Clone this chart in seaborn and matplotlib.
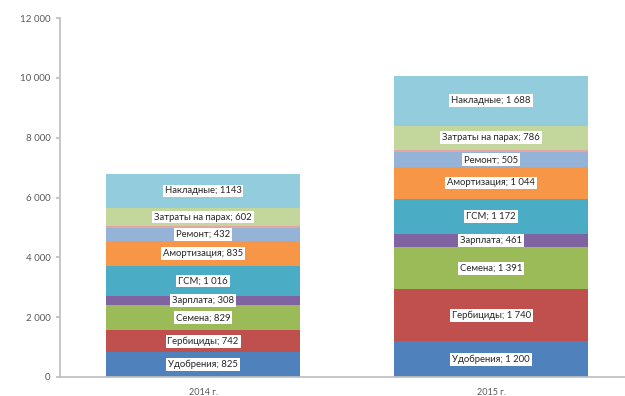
import matplotlib
matplotlib.use("Agg")
import matplotlib.pyplot as plt
import seaborn as sns
import numpy as np
import pandas as pd
from matplotlib.ticker import FuncFormatter

years = ["2014 г.", "2015 г."]
categories = ["Удобрения", "Гербициды", "Семена", "Зарплата", "ГСМ",
              "Амортизация", "Ремонт", "Прочие", "Затраты на парах", "Накладные"]
values_2014 = [825, 742, 829, 308, 1016, 835, 432, 60, 602, 1143]
values_2015 = [1200, 1740, 1391, 461, 1172, 1044, 505, 90, 786, 1688]
labels_2014 = ["825", "742", "829", "308", "1 016", "835", "432", None, "602", "1143"]
labels_2015 = ["1 200", "1 740", "1 391", "461", "1 172", "1 044", "505", None, "786", "1 688"]
colors = ["#4f81bd", "#c0504d", "#9bbb59", "#8064a2", "#4bacc6",
          "#f79646", "#95b3d7", "#e6a5a3", "#c3d69b", "#93cddd"]
yticks = [0, 2000, 4000, 6000, 8000, 10000, 12000]

sns.set_theme(style="white")
plt.rcParams["font.family"] = ["Lato", "DejaVu Sans"]

fig = plt.figure(figsize=(6.25, 3.96), dpi=100)
ax = fig.add_axes([0.096, 0.048, 0.904, 0.9065])

vals = np.array([values_2014, values_2015])
cum = np.cumsum(vals, axis=1)

for i in range(len(categories) - 1, -1, -1):
    df = pd.DataFrame({"year": years, "total": cum[:, i]})
    sns.barplot(data=df, x="year", y="total", color=colors[i], width=0.675,
                saturation=1, ax=ax, linewidth=0, errorbar=None)

labs = [labels_2014, labels_2015]
for j in range(2):
    for i, c in enumerate(categories):
        if labs[j][i] is None:
            continue
        mid = cum[j, i] - vals[j, i] / 2
        ax.text(j, mid, f"{c}; {labs[j][i]}", ha="center", va="center",
                fontsize=6.8, color="#262626",
                bbox=dict(boxstyle="square,pad=0.2", fc="white", ec="none"))

ax.set_ylim(0, 12000)
ax.set_xlim(-0.497, 1.465)
ax.set_yticks(yticks)
ax.yaxis.set_major_formatter(FuncFormatter(lambda v, p: f"{int(v):,}".replace(",", " ")))
ax.set_xlabel("")
ax.set_ylabel("")
for s in ["top", "right"]:
    ax.spines[s].set_visible(False)
ax.spines["left"].set_color("#bfbfbf")
ax.spines["bottom"].set_color("#bfbfbf")
ax.tick_params(axis="y", which="both", left=True, length=3, color="#bfbfbf",
               labelsize=7, labelcolor="#595959", pad=4)
ax.tick_params(axis="x", bottom=False, labelsize=6.5, labelcolor="#595959", pad=2)

fig.savefig("out.png", dpi=100)
